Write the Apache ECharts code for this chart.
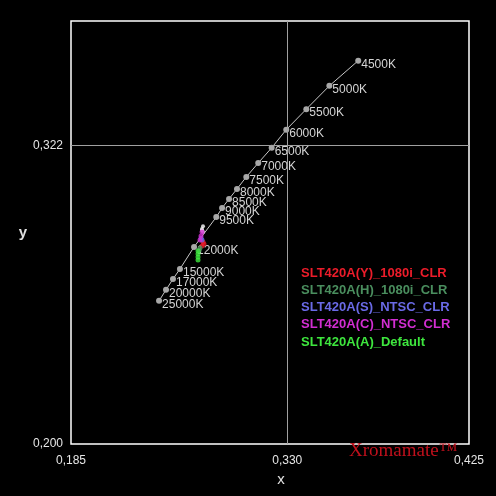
<!DOCTYPE html>
<html>
<head>
<meta charset="utf-8">
<script src="https://cdn.jsdelivr.net/npm/echarts@6/dist/echarts.min.js"></script>
<style>html,body{margin:0;padding:0;background:#000;}#c{width:496px;height:496px;}</style>
</head>
<body>
<div id="c"></div>
<script>
// Blackbody locus
var locusTemps = ['4500K','5000K','5500K','6000K','6500K','7000K','7500K','8000K','8500K','9000K','9500K','12000K','15000K','17000K','20000K','25000K'];
var locusX = [0.3582,0.3408,0.3269,0.3148,0.3060,0.2979,0.2907,0.2851,0.2803,0.2761,0.2726,0.2592,0.2507,0.2465,0.2423,0.2381];
var locusY = [0.3566,0.3463,0.3368,0.3284,0.3210,0.3148,0.3091,0.3042,0.3001,0.2964,0.2927,0.2805,0.2715,0.2674,0.2630,0.2585];

// Measurement series
var seriesNames = ['SLT420A(Y)_1080i_CLR','SLT420A(H)_1080i_CLR','SLT420A(S)_NTSC_CLR','SLT420A(C)_NTSC_CLR','SLT420A(A)_Default'];
var seriesColors = ['#ec1c2a','#4a8e5e','#6a6ae6','#d22ed2','#3ee63e'];
var yX = [0.2646,0.2652,0.2640];
var yY = [0.2825,0.2817,0.2809];
var hX = [0.2628,0.2622];
var hY = [0.2801,0.2792];
var sX = [0.2634,0.2640];
var sY = [0.2841,0.2833];
var cX = [0.2640,0.2634,0.2628];
var cY = [0.2866,0.2850,0.2833];
var aX = [0.2616,0.2616,0.2616,0.2616];
var aY = [0.2788,0.2776,0.2764,0.2752];
var wX = [0.2646,0.2640,0.2646,0.2640];
var wY = [0.2890,0.2878,0.2866,0.2872];

// Axes and target crosshair
var xMin = 0.185, xMax = 0.425, yMin = 0.200, yMax = 0.3728;
var targetX = 0.3154, targetY = 0.322;
var xTickValues = [0.185, 0.3154, 0.425];
var xTickLabels = ['0,185','0,330','0,425'];
var yTickValues = [0.200, 0.322];
var yTickLabels = ['0,200','0,322'];

function pts(xs, ys) { return xs.map(function (x, i) { return [x, ys[i]]; }); }
var narrow = "'Liberation Sans Narrow','Liberation Sans',sans-serif";

var locusData = locusTemps.map(function (t, i) { return { name: t, value: [locusX[i], locusY[i]] }; });
var measX = [yX, hX, sX, cX, aX];
var measY = [yY, hY, sY, cY, aY];

var series = [{
  type: 'line', name: 'locus', z: 2, data: locusData,
  symbol: 'circle', symbolSize: 6,
  itemStyle: { color: '#a8a8a8' },
  lineStyle: { color: '#c8c8c8', width: 1 },
  label: { show: true, formatter: '{b}', position: 'right', distance: 0, offset: [0, 4],
           color: '#d4d4d4', fontSize: 12, fontFamily: narrow },
  emphasis: { disabled: true },
  markLine: {
    silent: true, symbol: 'none', precision: 4, label: { show: false },
    lineStyle: { color: '#a0a0a0', width: 1, type: 'solid' },
    data: [{ xAxis: targetX }, { yAxis: targetY }]
  }
}, {
  type: 'scatter', name: 'white', z: 3, data: pts(wX, wY),
  symbol: 'circle', symbolSize: 4, itemStyle: { color: '#ffffff' }
}];
seriesNames.forEach(function (n, i) {
  series.push({
    type: 'scatter', name: n, z: 3 + i, data: pts(measX[i], measY[i]),
    symbol: 'circle', symbolSize: 5, itemStyle: { color: seriesColors[i] }
  });
});

var chart = echarts.init(document.getElementById('c'));
chart.setOption({
  backgroundColor: '#000',
  animation: false,
  grid: { left: 71, top: 21, width: 398, height: 423, show: true, borderColor: '#ffffff', borderWidth: 1.5 },
  xAxis: {
    type: 'value', min: xMin, max: xMax,
    name: 'x', nameLocation: 'middle', nameGap: 22,
    nameTextStyle: { color: '#e0e0e0', fontSize: 15, padding: [0, 0, 0, 22] },
    axisLine: { show: false }, axisTick: { show: false }, splitLine: { show: false },
    axisLabel: {
      customValues: xTickValues, margin: 11, color: '#e6e6e6', fontSize: 12, fontFamily: narrow,
      formatter: function (v) { var k = xTickValues.indexOf(v); return k >= 0 ? xTickLabels[k] : ''; }
    }
  },
  yAxis: {
    type: 'value', min: yMin, max: yMax,
    name: 'y', nameLocation: 'middle', nameGap: 42, nameRotate: 0,
    nameTextStyle: { color: '#e0e0e0', fontSize: 15, fontWeight: 'bold', padding: [14, 0, 0, 0] },
    axisLine: { show: false }, axisTick: { show: false }, splitLine: { show: false },
    axisLabel: {
      customValues: yTickValues, margin: 8, color: '#e6e6e6', fontSize: 12, fontFamily: narrow,
      formatter: function (v) { var k = yTickValues.indexOf(v); return k >= 0 ? yTickLabels[k] : ''; }
    }
  },
  legend: {
    orient: 'vertical', left: 291, top: 261,
    icon: 'none', itemWidth: 0, itemHeight: 14, itemGap: 3.8,
    selectedMode: false,
    textStyle: { fontSize: 13, fontWeight: 'bold', fontFamily: "'Liberation Sans',sans-serif" },
    data: seriesNames.map(function (n, i) { return { name: n, textStyle: { color: seriesColors[i] } }; })
  },
  graphic: [{
    type: 'text', left: 349, top: 442, silent: true,
    style: { text: 'Xromamate™', fill: '#c0101c', font: '19px "Liberation Serif", serif',
             shadowColor: 'rgba(160,10,20,0.7)', shadowBlur: 4 }
  }],
  series: series
});
</script>
</body>
</html>
